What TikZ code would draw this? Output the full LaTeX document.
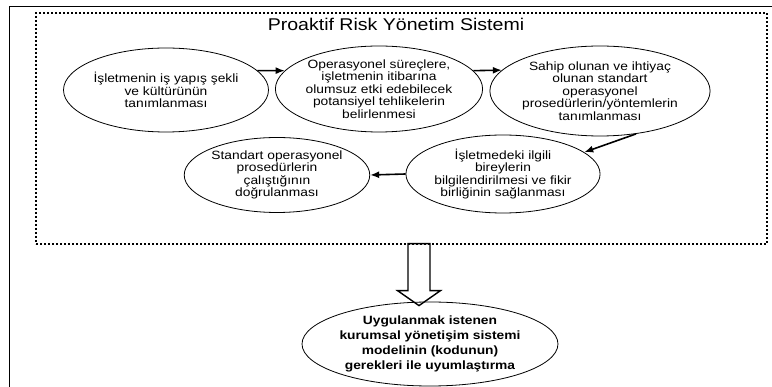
\documentclass[tikz,border=0pt]{standalone}
\usepackage{fontspec}
\setmainfont[FakeStretch=1.15]{Liberation Sans}
\usetikzlibrary{positioning, arrows.meta, shapes.geometric}

\tikzset{
  surec/.style={draw, ellipse, line width=0.8pt, inner sep=0pt, align=center,
    font=\fontsize{12}{12.5}\selectfont},
  ok/.style={-{Latex[length=9pt, width=7pt]}, line width=1.6pt},
}

\begin{document}
\begin{tikzpicture}[x=1pt, y=-1pt]
    \useasboundingbox (0,0) rectangle (772,387);
    % page edges
    \draw[line width=1pt] (9,387) -- (9,7) -- (772,7);
    % outer dotted frame
    \node[draw, line width=1.8pt, dash pattern=on 2pt off 2pt, minimum width=731pt, minimum height=231pt, inner sep=0pt] (sistem) at (401.5,128.4) {};
    \node[below=3pt of sistem.north, xshift=-5.5pt, font=\fontsize{17}{20}\selectfont] (baslik) {Proaktif Risk Yönetim Sistemi};

    \node[surec, minimum width=182pt, minimum height=84pt] (tanim) at (166,90) {İşletmenin iş yapış şekli\\ve kültürünün\\tanımlanması};
    \node[surec, minimum width=180pt, minimum height=86pt] (tehlike) at (379,89) {Operasyonel süreçlere,\\işletmenin itibarına\\olumsuz etki edebilecek\\potansiyel tehlikelerin\\belirlenmesi};
    \node[surec, minimum width=184pt, minimum height=90pt] (prosedur) at (600,91) {Sahip olunan ve ihtiyaç\\olunan standart\\operasyonel\\prosedürlerin/yöntemlerin\\tanımlanması};
    \node[surec, minimum width=183pt, minimum height=78pt] (bilgi) at (503,174) {İşletmedeki ilgili\\bireylerin\\bilgilendirilmesi ve fikir\\birliğinin sağlanması};
    \node[surec, minimum width=185pt, minimum height=75pt] (dogrula) at (277,175) {Standart operasyonel\\prosedürlerin\\çalıştığının\\doğrulanması};
    \node[surec, minimum width=250pt, minimum height=84pt, font=\fontsize{12}{15}\selectfont\bfseries] (uyum) at (430,344) {Uygulanmak istenen\\kurumsal yönetişim sistemi\\modelinin (kodunun)\\gerekleri ile uyumlaştırma};

    \draw[ok] (tanim.12) -- (tehlike.169);
    \draw[ok] (tehlike.11) -- (prosedur.168);
    \draw[ok] (prosedur.-50) -- (bilgi.15);
    \draw[ok] (bilgi.west) -- (dogrula.east);

    % hollow arrow down to the last step
    \coordinate (ucu) at ([xshift=-11pt, yshift=-4pt]uyum.north);
    \draw[line width=1.4pt, line join=miter] (ucu) -- ++(-21.5,-15) -- ++(10.5,0) -- ++(0,-47)
      -- ++(22,0) -- ++(0,47) -- ++(10.5,0) -- cycle;
\end{tikzpicture}
\end{document}
